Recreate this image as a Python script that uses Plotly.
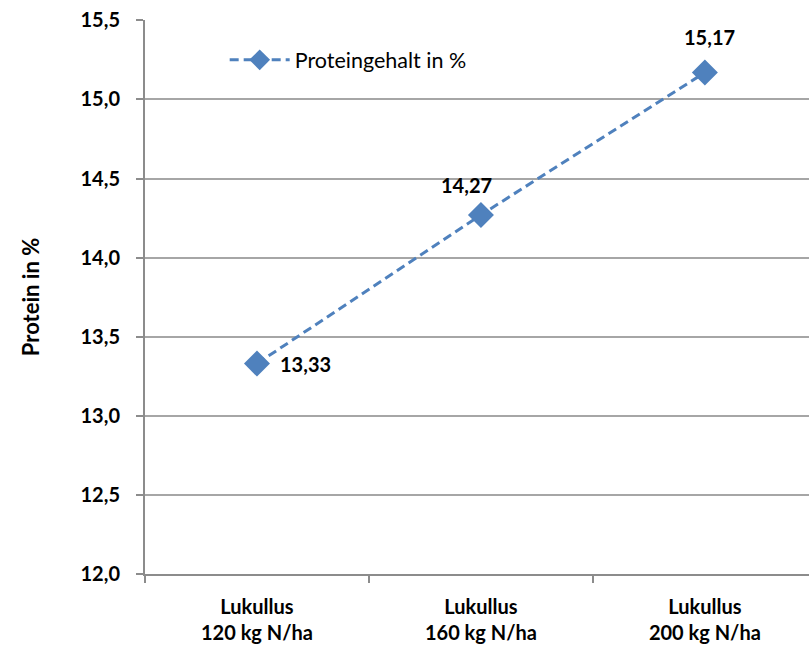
import plotly.graph_objects as go

categories = ["Lukullus<br>120 kg N/ha", "Lukullus<br>160 kg N/ha", "Lukullus<br>200 kg N/ha"]
protein = [13.33, 14.27, 15.17]
labels = ["13,33", "14,27", "15,17"]
y_ticks = [12.0, 12.5, 13.0, 13.5, 14.0, 14.5, 15.0, 15.5]
series_name = "Proteingehalt in %"
y_title = "Protein in %"

FONT = "Lato"
BLUE = "#4F81BD"

fig = go.Figure()
fig.add_trace(go.Scatter(
    x=categories, y=protein, name=series_name,
    mode="lines+markers",
    line=dict(color=BLUE, width=3, dash="9px,5px"),
    marker=dict(symbol="diamond", size=20, color=BLUE),
    cliponaxis=False,
))

# data labels (offsets in pixels relative to each point)
label_offsets = [(49, 0), (-14, 30), (5, 36)]
for cat, val, txt, (dx, dy) in zip(categories, protein, labels, label_offsets):
    fig.add_annotation(x=cat, y=val, text=txt, showarrow=False,
                       xshift=dx, yshift=dy,
                       font=dict(family=FONT, size=20, color="#000000", weight="bold"))

fig.update_layout(
    width=809, height=646,
    margin=dict(l=145, r=0, t=20, b=72, autoexpand=False),
    paper_bgcolor="white", plot_bgcolor="white",
    separators=",.",
    showlegend=True,
    legend=dict(x=0.12, y=0.928, xanchor="left", yanchor="middle",
                font=dict(family=FONT, size=21.5, color="#000000"),
                bgcolor="rgba(0,0,0,0)", itemwidth=60),
    xaxis=dict(
        type="category",
        range=[-0.5, 2.465],
        automargin=False,
        showline=True, linecolor="#8c8c8c", linewidth=2,
        ticks="outside", tickson="boundaries", ticklen=7, tickcolor="#8c8c8c", tickwidth=2,
        showgrid=False, ticklabelstandoff=14,
        tickfont=dict(family=FONT, size=20, color="#000000", weight="bold"),
    ),
    yaxis=dict(
        range=[12.0, 15.502], tickmode="array", tickvals=y_ticks, tickformat=".1f",
        automargin=False, ticklabeloverflow="allow",
        showline=True, linecolor="#8c8c8c", linewidth=2,
        ticks="outside", ticklen=7, tickcolor="#8c8c8c", tickwidth=2,
        showgrid=True, gridcolor="#a6a6a6", gridwidth=1.5,
        zeroline=False, ticklabelstandoff=12,
        tickfont=dict(family=FONT, size=20, color="#000000", weight="bold"),
        title=dict(text=y_title, font=dict(family=FONT, size=22, color="#000000", weight="bold"), standoff=35),
    ),
)

fig.write_html("out.html", config={"displayModeBar": False},
               post_script="document.body.style.margin='0';document.body.style.overflow='hidden';")
